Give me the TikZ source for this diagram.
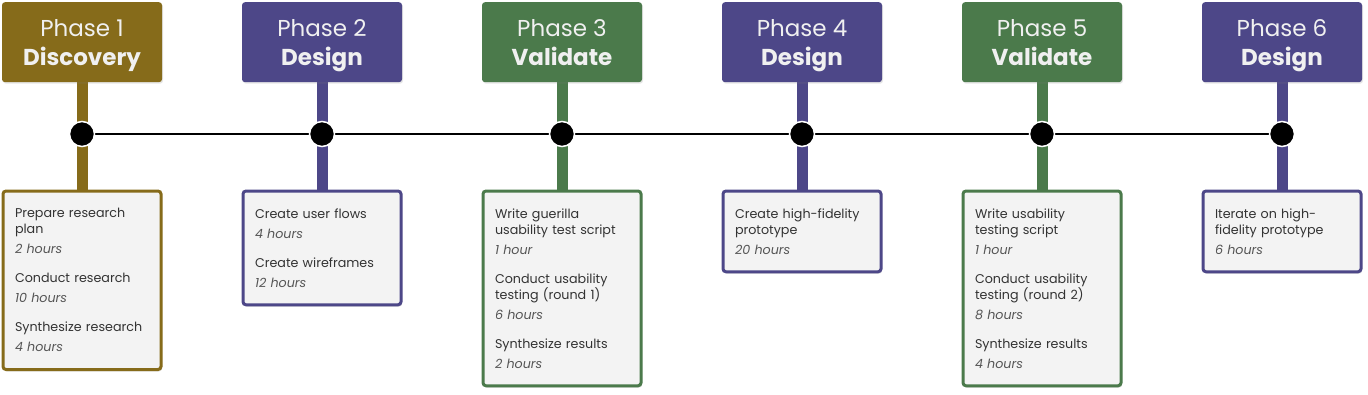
\documentclass[tikz,border=0pt]{standalone}
\usepackage{fontspec}
\setmainfont{Poppins}
\usetikzlibrary{shadows, backgrounds}

\definecolor{discgold}{HTML}{866B1A}
\definecolor{desgpurple}{HTML}{4D4788}
\definecolor{valgreen}{HTML}{4B7A4B}
\definecolor{boxgray}{HTML}{F3F3F3}
\definecolor{taskgray}{HTML}{333333}
\definecolor{hourgray}{HTML}{555555}

\newcommand{\hrs}[1]{{\itshape\color{hourgray}#1}}
\newcommand{\phasetitle}[2]{\rule{0pt}{26.5pt}#1\\\strut\textbf{#2}}

\begin{document}
\begin{tikzpicture}[x=1pt, y=-1pt,
    phase/.style={rectangle, rounded corners=3pt, minimum width=160pt, minimum height=80pt, anchor=north, fill=#1, text=white!94!black, align=center, font=\fontsize{23}{29}\selectfont, drop shadow={shadow xshift=1pt, shadow yshift=-1.5pt, opacity=.2}},
    task/.style={rectangle, rounded corners=3pt, draw=#1, line width=3pt, fill=boxgray, anchor=north, text width=134pt, inner xsep=12pt, inner ysep=17.5pt, align=left, text=taskgray, font=\fontsize{12.7}{16}\selectfont, drop shadow={shadow xshift=1pt, shadow yshift=-2pt, opacity=.2}},
    dot/.style={circle, fill=black, draw=white, line width=1.5pt, minimum size=25pt, inner sep=0pt},
    stem/.style={line width=11pt, draw=#1},
    timeline/.style={line width=2pt, black}
]
    \useasboundingbox (0,0) rectangle (1368,394);

    % Phase 1: Discovery
    \node[phase=discgold] (head1) at (82, 2) {\phasetitle{Phase 1}{Discovery}};
    \node[task=discgold] (task1) at (82, 189.5) {Prepare research\\plan\\[4pt]\hrs{2 hours}\\[13pt]Conduct research\\[4pt]\hrs{10 hours}\\[13pt]Synthesize research\\[4pt]\hrs{4 hours}};
    \node[dot] (dot1) at (82, 134) {};

    % Phase 2: Design
    \node[phase=desgpurple] (head2) at (322, 2) {\phasetitle{Phase 2}{Design}};
    \node[task=desgpurple] (task2) at (322, 189.5) {Create user flows\\[4pt]\hrs{4 hours}\\[13pt]Create wireframes\\[4pt]\hrs{12 hours}};
    \node[dot] (dot2) at (322, 134) {};

    % Phase 3: Validate
    \node[phase=valgreen] (head3) at (562, 2) {\phasetitle{Phase 3}{Validate}};
    \node[task=valgreen] (task3) at (562, 189.5) {Write guerilla\\usability test script\\[4pt]\hrs{1 hour}\\[13pt]Conduct usability\\testing (round 1)\\[4pt]\hrs{6 hours}\\[13pt]Synthesize results\\[4pt]\hrs{2 hours}};
    \node[dot] (dot3) at (562, 134) {};

    % Phase 4: Design
    \node[phase=desgpurple] (head4) at (802, 2) {\phasetitle{Phase 4}{Design}};
    \node[task=desgpurple] (task4) at (802, 189.5) {Create high-fidelity\\prototype\\[4pt]\hrs{20 hours}};
    \node[dot] (dot4) at (802, 134) {};

    % Phase 5: Validate
    \node[phase=valgreen] (head5) at (1042, 2) {\phasetitle{Phase 5}{Validate}};
    \node[task=valgreen] (task5) at (1042, 189.5) {Write usability\\testing script\\[4pt]\hrs{1 hour}\\[13pt]Conduct usability\\testing (round 2)\\[4pt]\hrs{8 hours}\\[13pt]Synthesize results\\[4pt]\hrs{4 hours}};
    \node[dot] (dot5) at (1042, 134) {};

    % Phase 6: Design
    \node[phase=desgpurple] (head6) at (1282, 2) {\phasetitle{Phase 6}{Design}};
    \node[task=desgpurple] (task6) at (1282, 189.5) {Iterate on high-\\fidelity prototype\\[4pt]\hrs{6 hours}};
    \node[dot] (dot6) at (1282, 134) {};

    % stems and timeline behind the dots
    \begin{pgfonlayer}{background}
        \draw[stem=discgold] (head1.south) -- (task1.north);
        \draw[stem=desgpurple] (head2.south) -- (task2.north);
        \draw[stem=valgreen] (head3.south) -- (task3.north);
        \draw[stem=desgpurple] (head4.south) -- (task4.north);
        \draw[stem=valgreen] (head5.south) -- (task5.north);
        \draw[stem=desgpurple] (head6.south) -- (task6.north);
        \draw[timeline] (dot1.center) -- (dot6.center);
    \end{pgfonlayer}

\end{tikzpicture}
\end{document}
